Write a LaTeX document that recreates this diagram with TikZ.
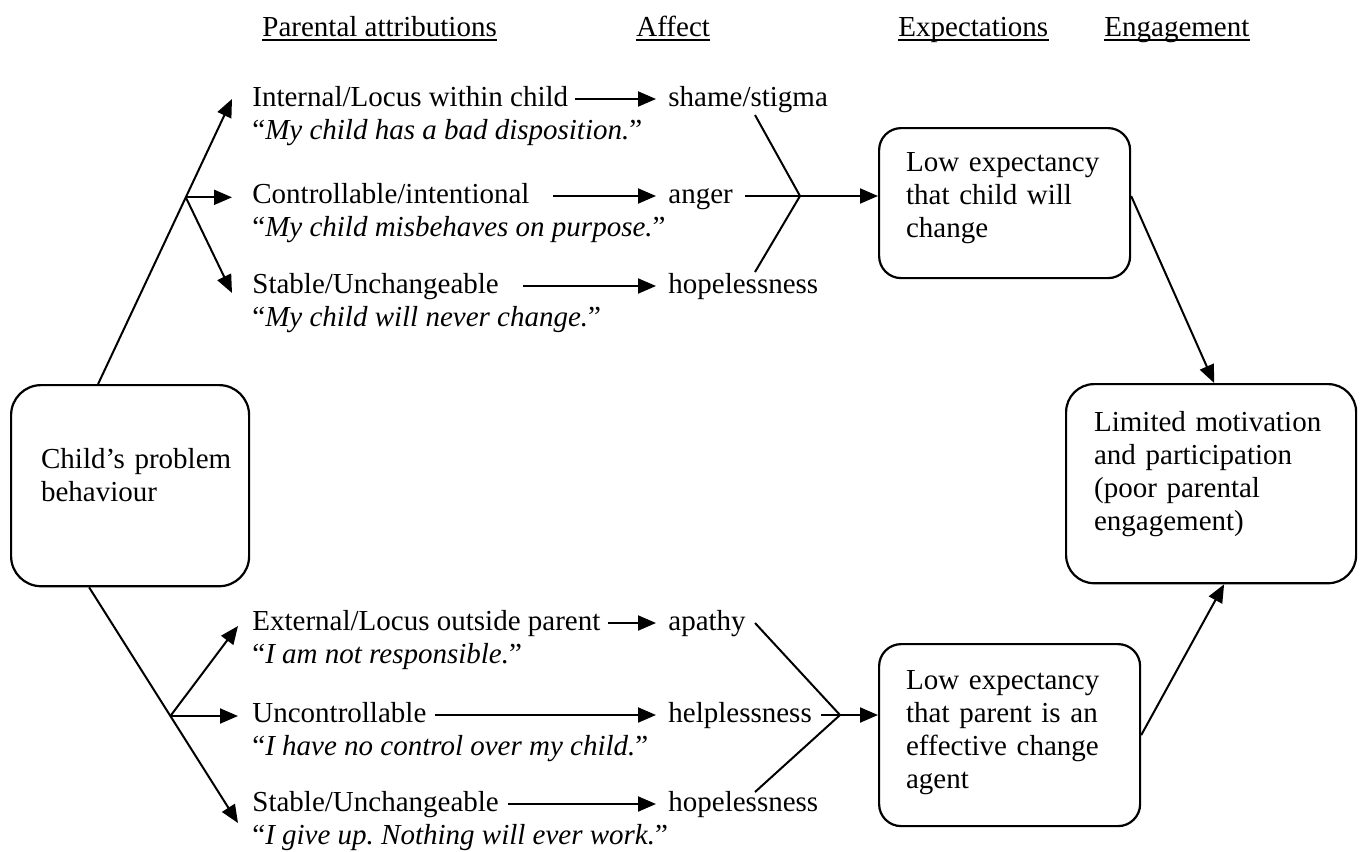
\documentclass[tikz,border=0pt]{standalone}
\usepackage{fontspec}
\setmainfont{Liberation Serif}
\usetikzlibrary{arrows.meta,calc}
\frenchspacing
\begin{document}
\begin{tikzpicture}[x=0.5pt,y=-0.5pt,
  every node/.style={font=\fontsize{14.5pt}{16.5pt}\selectfont, inner sep=0pt},
  lbl/.style={anchor=west, text height=10.875pt, text depth=3.625pt},
  quot/.style={anchor=base west},
  hdr/.style={anchor=base west},
  arr/.style={line width=1pt, -{Triangle[length=9pt,width=7.5pt]}},
  ln/.style={line width=1pt},
  uline/.style={line width=1pt},
  card/.style={draw, line width=1.1pt, anchor=north west, align=left},
]
\useasboundingbox (0,0) rectangle (1363,851);

% headers
\node[hdr] (h1) at (262,36) {Parental attributions};
\node[hdr] (h2) at (636,36) {Affect};
\node[hdr] (h3) at (898,36) {Expectations};
\node[hdr] (h4) at (1104,36) {Engagement};
\foreach \h in {h1,h2,h3,h4}
  \draw[uline] ([yshift=-2pt]\h.base west) -- ([yshift=-2pt]\h.base east);

% boxes
\node[card, rounded corners=15pt, text width=89pt, inner xsep=15pt, inner ysep=31.5pt] (ch) at (10,384)
  {\rule{0pt}{10pt}\mbox{Child’s problem}\\\mbox{behaviour}\rule[-11pt]{0pt}{0pt}};
\node[card, rounded corners=11pt, text width=98.5pt, inner xsep=13.5pt, inner ysep=11.5pt] (e1) at (878,127)
  {\rule{0pt}{10pt}\mbox{Low expectancy}\\\mbox{that child will}\\\mbox{change}\rule[-9pt]{0pt}{0pt}};
\node[card, rounded corners=11pt, text width=103.5pt, inner xsep=13.5pt, inner ysep=12.5pt] (e2) at (878,643)
  {\rule{0pt}{10pt}\mbox{Low expectancy}\\\mbox{that parent is an}\\\mbox{effective change}\\\mbox{agent}\rule[-6.5pt]{0pt}{0pt}};
\node[card, rounded corners=14pt, text width=117pt, inner xsep=14pt, inner ysep=13.5pt] (eng) at (1065,383)
  {\rule{0pt}{10pt}\mbox{Limited motivation}\\\mbox{and participation}\\\mbox{(poor parental}\\\mbox{engagement)}\rule[-13pt]{0pt}{0pt}};

% attributions
\node[lbl] (a1) at (252,99) {Internal/Locus within child};
\node[quot] (q1) at ([yshift=-16.5pt]a1.base west) {“\textit{My child has a bad disposition.}”};
\node[lbl] (a2) at (252,196) {Controllable/intentional};
\node[quot] (q2) at ([yshift=-16.5pt]a2.base west) {“\textit{My child misbehaves on purpose.}”};
\node[lbl] (a3) at (252,286) {Stable/Unchangeable};
\node[quot] (q3) at ([yshift=-16.5pt]a3.base west) {“\textit{My child will never change.}”};
\node[lbl] (a4) at (252,623) {External/Locus outside parent};
\node[quot] (q4) at ([yshift=-16.5pt]a4.base west) {“\textit{I am not responsible.}”};
\node[lbl] (a5) at (252,715) {Uncontrollable};
\node[quot] (q5) at ([yshift=-16.5pt]a5.base west) {“\textit{I have no control over my child.}”};
\node[lbl] (a6) at (252,804) {Stable/Unchangeable};
\node[quot] (q6) at ([yshift=-16.5pt]a6.base west) {“\textit{I give up. Nothing will ever work.}”};

% affect
\node[lbl] (f1) at (668,99) {shame/stigma};
\node[lbl] (f2) at (668,196) {anger};
\node[lbl] (f3) at (668,286) {hopelessness};
\node[lbl] (f4) at (668,623) {apathy};
\node[lbl] (f5) at (668,715) {helplessness};
\node[lbl] (f6) at (668,804) {hopelessness};

% attribution -> affect
\draw[arr] ([xshift=3pt]a1.east) -- ([xshift=-6pt]f1.west);
\draw[arr] ([xshift=11.5pt]a2.east) -- ([xshift=-6pt]f2.west);
\draw[arr] ([xshift=12pt]a3.east) -- ([xshift=-6pt]f3.west);
\draw[arr] ([xshift=3.5pt]a4.east) -- ([xshift=-6pt]f4.west);
\draw[arr] ([xshift=4pt]a5.east) -- ([xshift=-6pt]f5.west);
\draw[arr] ([xshift=4.5pt]a6.east) -- ([xshift=-6pt]f6.west);

% branches from child box
\coordinate (t0) at ([xshift=-16pt]ch.north);
\coordinate (t1) at ([xshift=-10pt]a1.west);
\draw[arr] (t0) -- (t1);
\coordinate (b1) at ($(t0)!0.655!(t1)$);
\draw[arr] (b1) -- (b1 -| t1);
\draw[arr] (b1) -- ([xshift=-10pt,yshift=-3.5pt]a3.west);

\coordinate (u0) at ([xshift=-20.5pt]ch.south);
\coordinate (u1) at ([xshift=-7pt,yshift=-9.5pt]a6.west);
\draw[arr] (u0) -- (u1);
\coordinate (b2) at ($(u0)!0.546!(u1)$);
\draw[arr] (b2) -- ([xshift=-7pt,yshift=-1.5pt]a4.west);
\draw[arr] (b2) -- (b2 -| u1);

% convergence top
\coordinate (c1) at (800,196);
\coordinate (s1) at (755,115);
\coordinate (s3) at (755,272);
\draw[ln] (s1) -- (c1);
\draw[ln] ([xshift=6pt]f2.east) -- (c1);
\draw[ln] (s3) -- (c1);
\draw[arr] (c1) -- (c1 -| e1.west);

% convergence bottom
\coordinate (c2) at (840,715);
\coordinate (s4) at (755,623);
\coordinate (s6) at (755,792);
\draw[ln] (s4) -- (c2);
\draw[ln] ([xshift=4.5pt]f5.east) -- (c2);
\draw[ln] (s6) -- (c2);
\draw[arr] (c2) -- (c2 -| e2.west);

% to engagement
\draw[arr] ([yshift=3.5pt]e1.east) -- ([xshift=1.5pt]eng.north);
\draw[arr] (e2.east) -- ([xshift=6.5pt]eng.south);
\end{tikzpicture}
\end{document}
